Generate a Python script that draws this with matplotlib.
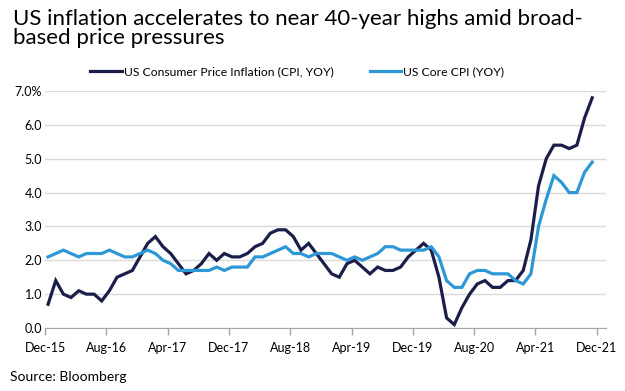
import matplotlib
matplotlib.use("Agg")
import matplotlib.pyplot as plt
import numpy as np

title = "US inflation accelerates to near 40-year highs amid broad-\nbased price pressures"
source = "Source: Bloomberg"
series_names = ["US Consumer Price Inflation (CPI, YOY)", "US Core CPI (YOY)"]

# Monthly, Dec-15 .. Nov-21
cpi = [0.7,
       1.4, 1.0, 0.9, 1.1, 1.0, 1.0, 0.8, 1.1, 1.5, 1.6, 1.7, 2.1,
       2.5, 2.7, 2.4, 2.2, 1.9, 1.6, 1.7, 1.9, 2.2, 2.0, 2.2, 2.1,
       2.1, 2.2, 2.4, 2.5, 2.8, 2.9, 2.9, 2.7, 2.3, 2.5, 2.2, 1.9,
       1.6, 1.5, 1.9, 2.0, 1.8, 1.6, 1.8, 1.7, 1.7, 1.8, 2.1, 2.3,
       2.5, 2.3, 1.5, 0.3, 0.1, 0.6, 1.0, 1.3, 1.4, 1.2, 1.2, 1.4,
       1.4, 1.7, 2.6, 4.2, 5.0, 5.4, 5.4, 5.3, 5.4, 6.2, 6.8]
core = [2.1,
        2.2, 2.3, 2.2, 2.1, 2.2, 2.2, 2.2, 2.3, 2.2, 2.1, 2.1, 2.2,
        2.3, 2.2, 2.0, 1.9, 1.7, 1.7, 1.7, 1.7, 1.7, 1.8, 1.7, 1.8,
        1.8, 1.8, 2.1, 2.1, 2.2, 2.3, 2.4, 2.2, 2.2, 2.1, 2.2, 2.2,
        2.2, 2.1, 2.0, 2.1, 2.0, 2.1, 2.2, 2.4, 2.4, 2.3, 2.3, 2.3,
        2.3, 2.4, 2.1, 1.4, 1.2, 1.2, 1.6, 1.7, 1.7, 1.6, 1.6, 1.6,
        1.4, 1.3, 1.6, 3.0, 3.8, 4.5, 4.3, 4.0, 4.0, 4.6, 4.9]
x_tick_labels = ["Dec-15", "Aug-16", "Apr-17", "Dec-17", "Aug-18",
                 "Apr-19", "Dec-19", "Aug-20", "Apr-21", "Dec-21"]
y_ticks = [0, 1, 2, 3, 4, 5, 6, 7]
y_tick_labels = ["0.0", "1.0", "2.0", "3.0", "4.0", "5.0", "6.0", "7.0%"]

plt.rcParams['font.family'] = ['Lato', 'DejaVu Sans']

fig = plt.figure(figsize=(6.25, 3.91), dpi=100)
ax = fig.add_axes([45/625, 63/391, 561/625, 237/391])

xs = np.arange(len(cpi)) + 0.4
navy = "#1b1e4b"
blue = "#2e98d6"
l1, = ax.plot(xs, cpi, color=navy, lw=2.3, solid_joinstyle='miter')
l2, = ax.plot(xs, core, color=blue, lw=2.3, solid_joinstyle='miter')

ax.set_xlim(0, 73.2)
ax.set_ylim(0, 7)
ax.set_xticks(np.arange(0, 73, 8))
ax.set_xticklabels(x_tick_labels, fontsize=9)
ax.set_yticks(y_ticks)
ax.set_yticklabels(y_tick_labels, fontsize=9)
ax.tick_params(axis='y', length=0, pad=2)
ax.tick_params(axis='x', length=5, color="#a6a6a6", width=1, pad=5)
for s in ["top", "right", "left"]:
    ax.spines[s].set_visible(False)
ax.spines["bottom"].set_color("#a6a6a6")
ax.grid(axis='y', color="#d9d9d9", lw=1)
ax.set_axisbelow(True)

fig.text(13/625, 1 - 9/391, title, fontsize=16, va='top', ha='left', linespacing=0.95)
fig.legend([l1, l2], series_names, loc='center', bbox_to_anchor=(297/625, 1 - 72/391),
           ncol=2, frameon=False, fontsize=8.7, handlelength=2.6, handletextpad=0.15,
           columnspacing=3.0)
fig.text(10/625, 1 - 377/391, source, fontsize=10, va='center', ha='left')

fig.savefig("out.png", dpi=100)
